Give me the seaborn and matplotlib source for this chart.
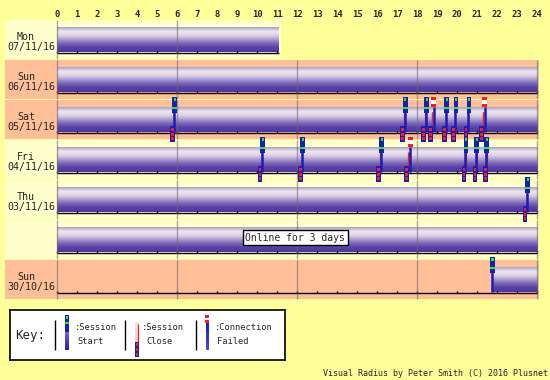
import matplotlib
matplotlib.use("Agg")
import matplotlib.pyplot as plt
from matplotlib.patches import Rectangle
import numpy as np
import seaborn as sns

# rows, top to bottom
day_labels = ["Mon", "Sun", "Sat", "Fri", "Thu", "", "Sun"]
date_labels = ["07/11/16", "06/11/16", "05/11/16", "04/11/16", "03/11/16", "", "30/10/16"]
weekend = [False, True, True, False, False, False, True]
online_from = [0, 0, 0, 0, 0, 0, 21.76]
online_to = [11.1, 24, 24, 24, 24, 24, 24]

# session events (row index, hour of day)
start_row = [2, 2, 2, 2, 2, 2, 3, 3, 3, 3, 3, 3, 4, 6]
start_hour = [5.87, 17.39, 18.47, 19.47, 19.93, 20.58,
              10.27, 12.27, 16.22, 20.43, 20.97, 21.47, 23.52, 21.76]
close_row = [2, 2, 2, 2, 2, 2, 2, 2, 3, 3, 3, 3, 3, 3, 3, 4]
close_hour = [5.77, 17.27, 18.30, 18.67, 19.37, 19.80, 20.43, 21.22,
              10.13, 12.17, 16.07, 17.47, 20.33, 20.88, 21.39, 23.38]
failed_row = [2, 2, 3]
failed_hour = [18.82, 21.37, 17.64]

note_text = "Online for 3 days"
note_row = 5
note_hour = 11.9
hours = list(range(25))
grid_hours = [0, 6, 12, 18, 24]

BG = "#FFFF99"
LIGHT = "#FFFFCC"
PEACH = "#FFBF99"
BLUE = "#1C1CB8"
GREEN = "#22EE22"
RED = "#EE2222"
MONO = "DejaVu Sans Mono"

sns.set_theme(style="white")
plt.rcParams["font.family"] = [MONO]

# pixel layout: hour 0 at x=57.3px, 20px per hour; rows 40px high starting at y=20px
PXH = 20.0
X0 = 57.3
ROWPX = 40.0
TOP = 20.0

fig = plt.figure(figsize=(5.5, 3.8), dpi=100, facecolor=BG)
ax = fig.add_axes([0, 0, 1, 1])
ax.set_facecolor(BG)

bar_cmap = sns.blend_palette(["#A6A2C8", "#F0E6EE", "#DCD3E6", "#A99BCF",
                              "#7563B6", "#5840A4", "#4E369E"], as_cmap=True)
grad = np.linspace(0, 1, 64).reshape(-1, 1)

left = -(X0 - 5) / PXH
for r in range(len(day_labels)):
    bg_end = min(online_to[r] + 0.1, 24.15)
    ax.add_patch(Rectangle((left, r), bg_end - left, 0.975,
                           fc=PEACH if weekend[r] else LIGHT, ec="none", zorder=1))
    # session bar with cylinder shading
    ax.imshow(grad, cmap=bar_cmap, aspect="auto", origin="upper", interpolation="bilinear",
              extent=[online_from[r], online_to[r], r + 0.8, r + 0.175], zorder=3)
    # hour scale under bar
    ax.hlines(r + 0.83, 0, online_to[r], color="black", lw=1, zorder=4)
    hs = [h for h in hours if h <= online_to[r]]
    ax.vlines(hs, r + 0.78, r + 0.83, color="black", lw=1, zorder=4)
    gh = [h for h in grid_hours if h <= bg_end]
    ax.vlines(gh, r, r + 0.975, color="#6E6E6E", alpha=0.6, lw=1, zorder=5)
    ax.text((26 - X0) / PXH, r + 0.43, day_labels[r], ha="center", va="center", fontsize=7.2)
    ax.text((31 - X0) / PXH, r + 0.68, date_labels[r], ha="center", va="center", fontsize=7.2)

for h in hours:
    ax.text(h, -0.13, str(h), ha="center", va="center", fontsize=6.4, fontweight="bold")


def box(x, y, w, h, c, z=8):
    ax.add_patch(Rectangle((x, y), w, h, fc=c, ec="none", zorder=z, antialiased=False))


def start_glyph(x, y):
    ax.vlines(x - 0.03, y + 0.3, y + 0.79, color=BLUE, lw=1.8, zorder=7)
    box(x - 0.12, y - 0.083, 0.24, 0.4, BLUE, 7)
    box(x - 0.06, y - 0.05, 0.12, 0.08, GREEN)
    box(x - 0.12, y + 0.17, 0.24, 0.065, GREEN)


def close_glyph(x, y):
    ax.vlines(x + 0.08, y + 0.3, y + 0.68, color=RED, lw=0.9, zorder=6)
    box(x - 0.12, y + 0.66, 0.24, 0.38, BLUE, 7)
    for a, b in [(0.7, 0.78), (0.82, 0.9), (0.93, 1.01)]:
        box(x - 0.07, y + a, 0.14, b - a, RED)


def failed_glyph(x, y):
    ax.vlines(x - 0.08, y + 0.3, y + 0.7, color=RED, lw=0.9, zorder=6)
    ax.vlines(x, y + 0.17, y + 0.79, color=BLUE, lw=1.8, zorder=7)
    box(x - 0.12, y - 0.083, 0.24, 0.083, RED)
    box(x - 0.12, y, 0.24, 0.1, "white")
    box(x - 0.12, y + 0.1, 0.24, 0.07, RED)


for r, h in zip(close_row, close_hour):
    close_glyph(h, r)
for r, h in zip(start_row, start_hour):
    start_glyph(h, r)
for r, h in zip(failed_row, failed_hour):
    failed_glyph(h, r)

ax.text(note_hour, note_row + 0.44, note_text, ha="center", va="center", fontsize=7, zorder=10,
        bbox=dict(boxstyle="square,pad=0.25", fc="white", ec="black", lw=1))

ax.set_xlim(-X0 / PXH, (550 - X0) / PXH)
ax.set_ylim((380 - TOP) / ROWPX, -TOP / ROWPX)
ax.axis("off")

# key box, drawn in its own pixel space
kx = fig.add_axes([10 / 550, (380 - 360) / 380, 275 / 550, 50 / 380])
kx.set_xticks([])
kx.set_yticks([])
kx.set_facecolor("white")
for s in kx.spines.values():
    s.set_visible(True)
    s.set_color("black")
    s.set_linewidth(1.2)


def kbox(x, y, w, h, c):
    kx.add_patch(Rectangle((x, y), w, h, fc=c, ec="none", antialiased=False))


kx.text(5, 25, "Key:", ha="left", va="center", fontsize=9)
kx.vlines([45, 115, 185.7], 10, 40, color="black", lw=1)
# start icon
kx.imshow(grad, cmap=sns.blend_palette(["#6C64C8", "#2020B8"], as_cmap=True), aspect="auto",
          extent=[55, 59, 40, 22])
kbox(55, 5, 4, 17, BLUE)
kbox(56, 6, 2, 2.5, GREEN)
kbox(55, 11.5, 4, 2.5, GREEN)
kx.text(65, 17, ":Session", ha="left", va="center", fontsize=6.3)
kx.text(67, 32, "Start", ha="left", va="center", fontsize=6.3)
# close icon
kx.imshow(grad, cmap=sns.blend_palette(["#E8E8F0", "#F4C8D0"], as_cmap=True), aspect="auto",
          extent=[125, 128.3, 31.7, 11.7])
kx.vlines(128, 14, 31.7, color=RED, lw=0.9)
kbox(125, 31.7, 3.5, 15, BLUE)
for a in [32.7, 37.5, 42.5]:
    kbox(125.7, a, 2.2, 3, RED)
kx.text(131.7, 17, ":Session", ha="left", va="center", fontsize=6.3)
kx.text(136.7, 32, "Close", ha="left", va="center", fontsize=6.3)
# failed icon
kbox(195, 5, 4, 2.5, RED)
kbox(195, 10, 4, 3.3, RED)
kx.imshow(grad, cmap=sns.blend_palette(["#1C1CB8", "#4C4CD0"], as_cmap=True), aspect="auto",
          extent=[196, 198.5, 40, 13.3])
kx.text(205, 17, ":Connection", ha="left", va="center", fontsize=6.3)
kx.text(206.7, 32, "Failed", ha="left", va="center", fontsize=6.3)
kx.set_xlim(0, 275)
kx.set_ylim(50, 0)

fig.text(548 / 550, 1 - 373 / 380, "Visual Radius by Peter Smith (C) 2016 Plusnet",
         ha="right", va="center", fontsize=6)

fig.savefig("out.png", dpi=100, facecolor=BG)
